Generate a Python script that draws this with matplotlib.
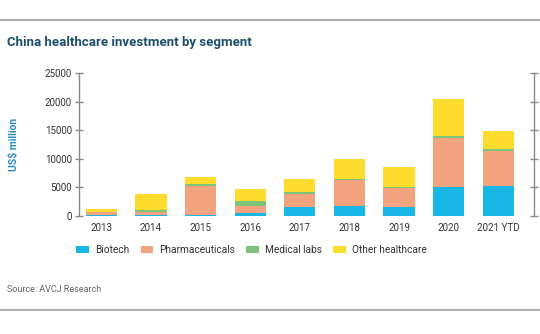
import numpy as np
import matplotlib.pyplot as plt
from matplotlib.lines import Line2D

plt.rcParams['font.family'] = ['Roboto', 'DejaVu Sans']

years = ['2013', '2014', '2015', '2016', '2017', '2018', '2019', '2020', '2021 YTD']
biotech = [40, 70, 150, 530, 1520, 1760, 1520, 5090, 5210]
pharma = [680, 630, 5150, 1230, 2340, 4510, 3280, 8550, 6150]
medlabs = [0, 300, 350, 820, 230, 175, 290, 410, 350]
other = [400, 2810, 1080, 2110, 2290, 3565, 3400, 6380, 3100]

segments = ['Biotech', 'Pharmaceuticals', 'Medical labs', 'Other healthcare']
colors = ['#19b7e6', '#f4a37f', '#7ec37a', '#fddc2e']

fig = plt.figure(figsize=(5.4, 3.34), dpi=100)
ax = fig.add_axes([0.1463, 0.3542, 0.8426, 0.4263])

x = np.arange(len(years))
bottom = np.zeros(len(years))
for vals, name, c in zip([biotech, pharma, medlabs, other], segments, colors):
    ax.bar(x, vals, width=0.63, bottom=bottom, color=c, label=name)
    bottom += np.array(vals)

ax.set_ylim(0, 25000)
ax.set_xlim(-0.45, 8.72)
ax.set_yticks(range(0, 25001, 5000))
ax.set_xticks(x)
ax.set_xticklabels(years)

for s in ['top', 'bottom']:
    ax.spines[s].set_visible(False)
for s in ['left', 'right']:
    ax.spines[s].set_color('#8a8a8a')
    ax.spines[s].set_linewidth(1.0)

ax.tick_params(axis='y', direction='inout', length=6, width=1.0, color='#8a8a8a',
               labelsize=7, labelcolor='#333333', pad=2, right=True)
ax.tick_params(axis='x', length=0, labelsize=7, labelcolor='#333333', pad=5)

# header/footer rules
fig.add_artist(Line2D([0, 1], [0.940, 0.940], color='#b0b0b0', lw=1.5))
fig.add_artist(Line2D([0, 1], [0.072, 0.072], color='#b0b0b0', lw=1.5))

fig.text(0.013, 0.872, 'China healthcare investment by segment', fontsize=9.5,
         fontweight='bold', color='#1d4e6b', va='center', ha='left')
fig.text(0.026, 0.568, 'US$ million', rotation=90, fontsize=7.5, fontweight='bold',
         color='#2a8cba', va='center', ha='center')
fig.text(0.013, 0.132, 'Source: AVCJ Research', fontsize=6.5, color='#666666',
         va='center', ha='left')

fig.legend(loc='center', bbox_to_anchor=(0.466, 0.251), ncol=4, frameon=False,
           fontsize=7.3, handlelength=1.25, handleheight=0.6, handletextpad=0.6,
           columnspacing=1.1, labelcolor='#333333')

fig.savefig('out.png', dpi=100)
